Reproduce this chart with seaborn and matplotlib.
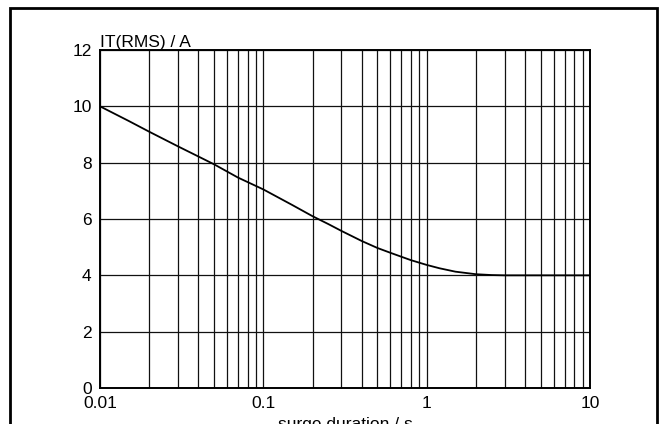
import numpy as np
import pandas as pd
import matplotlib.pyplot as plt
import seaborn as sns
from matplotlib.patches import Rectangle
from matplotlib.ticker import FixedLocator, NullFormatter

# data
duration = [0.01, 0.015, 0.02, 0.03, 0.04, 0.05, 0.07, 0.1, 0.15, 0.2, 0.25, 0.3, 0.4,
            0.5, 0.6, 0.7, 0.8, 1.0, 1.2, 1.5, 2.0, 2.5, 3.0, 5.0, 10.0]
current = [10.0, 9.48, 9.1, 8.58, 8.22, 7.94, 7.47, 7.05, 6.5, 6.1, 5.82, 5.58, 5.22,
           4.97, 4.8, 4.66, 4.54, 4.37, 4.25, 4.13, 4.04, 4.01, 4.0, 4.0, 4.0]

x_ticks = [0.01, 0.1, 1, 10]
x_tick_labels = ["0.01", "0.1", "1", "10"]
y_ticks = [0, 2, 4, 6, 8, 10, 12]

df = pd.DataFrame({"duration": duration, "current": current})

sns.set_theme(style="white")
plt.rcParams["font.family"] = ["Liberation Sans", "DejaVu Sans"]

fs = 12.5

fig = plt.figure(figsize=(6.65, 4.24), dpi=100)
ax = fig.add_axes([100 / 665, 1 - 388 / 424, 490 / 665, 338 / 424])

sns.lineplot(data=df, x="duration", y="current", ax=ax, color="black", linewidth=1.3)

ax.set_xscale("log")
ax.set_xlim(0.01, 10)
ax.set_ylim(0, 12)

minor = [m * 10.0 ** e for e in range(-2, 1) for m in range(2, 10)]
ax.xaxis.set_minor_locator(FixedLocator(minor))
ax.xaxis.set_minor_formatter(NullFormatter())
ax.set_xticks(x_ticks)
ax.set_xticklabels(x_tick_labels)
ax.set_yticks(y_ticks)
ax.grid(True, which="both", axis="x", color="#111111", linewidth=0.9)
ax.grid(True, which="major", axis="y", color="#111111", linewidth=0.9)
ax.tick_params(axis="y", which="both", length=0, labelsize=fs, colors="black", pad=6)
ax.tick_params(axis="x", which="both", length=0, labelsize=fs, colors="black", pad=6)
for s in ax.spines.values():
    s.set_color("black")
    s.set_linewidth(1.4)

ax.set_xlabel("surge duration / s", fontsize=fs, color="black", labelpad=4)
ax.set_ylabel("")
ax.text(0.0, 1.0, "IT(RMS) / A", transform=ax.transAxes, fontsize=fs,
        ha="left", va="bottom", color="black")

# outer frame
fig.patches.append(Rectangle((10 / 665, -0.1), 647 / 665, 1 - 8 / 424 + 0.1,
                             transform=fig.transFigure, fill=False,
                             edgecolor="black", linewidth=2))

fig.savefig("out.png", dpi=100)
